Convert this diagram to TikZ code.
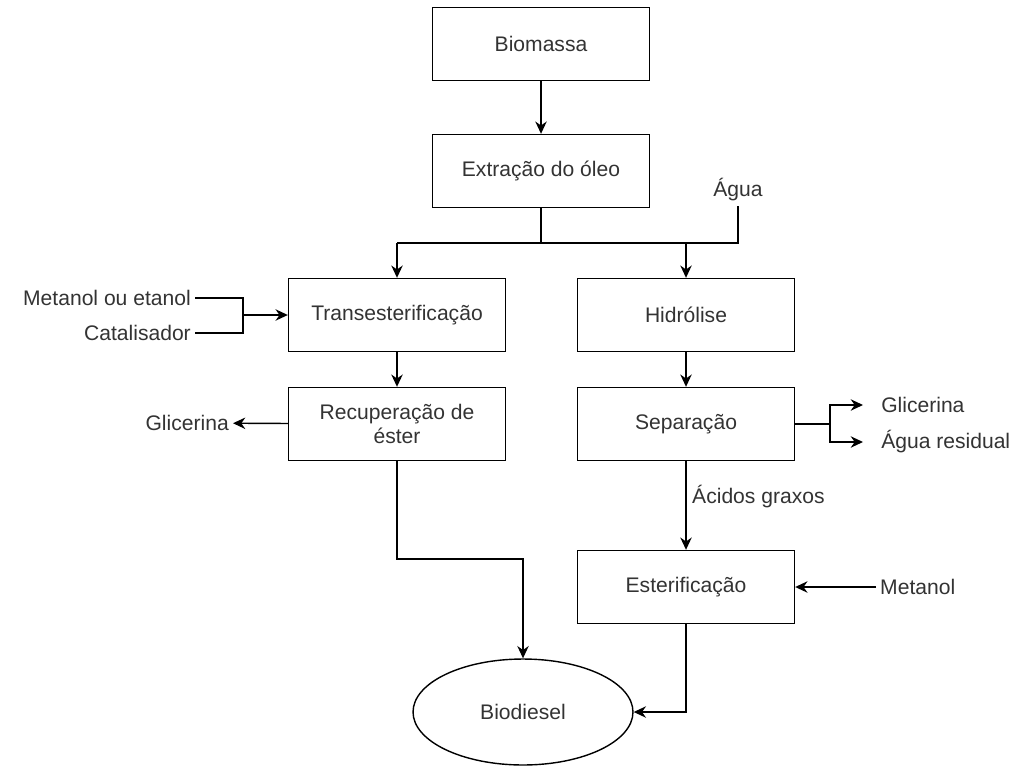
\documentclass[tikz,border=0pt]{standalone}
\usepackage{fontspec}
\setmainfont{Liberation Sans}
\usepackage{tikz}
\usetikzlibrary{calc}
\usetikzlibrary{positioning}
\usetikzlibrary{shapes.geometric}
\usetikzlibrary{arrows.meta}
\tikzstyle{procnode} = [draw, rectangle, minimum width=4.34cm, minimum height=1.46cm, align=center, text=black!80]
\tikzstyle{endnode} = [draw, ellipse, minimum width=4.4cm, minimum height=2.12cm, text=black!80]
\tikzstyle{lblnode} = [inner sep=2pt, text=black!80]

\begin{document}
\begin{tikzpicture}[x=0.02cm, y=-0.02cm, line width=0.8pt, >={Stealth[length=7pt,width=6.5pt]}, font=\fontsize{12}{14}\selectfont]
  \useasboundingbox (0,0) rectangle (1016,767);

  \node[procnode] (bio) at (541,44) {Biomassa};
  \node[procnode] (oleo) at (541,171) {Extração do óleo};
  \node[procnode] (trans) at (397,315) {Transesterificação};
  \node[procnode] (recup) at (397,424) {Recuperação de\\éster};
  \node[procnode] (hidr) at (686,315) {Hidrólise};
  \node[procnode] (sep) at (686,424) {Separação};
  \node[procnode] (ester) at (686,587) {Esterificação};
  \node[endnode] (biod) at (523,712) {Biodiesel};

  \node[lblnode] (agua) at (738,190) {Água};
  \node[lblnode, anchor=east] (met) at (195,298) {Metanol ou etanol};
  \node[lblnode, anchor=east] (cat) at (195,333) {Catalisador};
  \node[lblnode, anchor=east] (gli1) at (233,423) {Glicerina};
  \node[lblnode, anchor=west] (gli2) at (863,405) {\hspace{8pt}Glicerina};
  \node[lblnode, anchor=west] (agres) at (863,442) {\hspace{8pt}Água residual};
  \node[lblnode, anchor=west] (acid) at (688,497) {Ácidos graxos};
  \node[lblnode, anchor=west] (met2) at (876,587) {Metanol};

  \coordinate (split) at (541,243);
  \coordinate (jl) at (243,315);
  \coordinate (js) at (830,424);
  \coordinate (cr) at (523,559);

  \draw[->] (bio) -- (oleo);
  \draw (oleo) -- (split);
  \draw (trans.north |- split) -- (agua.south |- split) -- (agua.south);
  \draw[->] (trans.north |- split) -- (trans);
  \draw[->] (hidr.north |- split) -- (hidr);

  \draw (met.east) -| (jl);
  \draw (cat.east) -| (jl);
  \draw[->] (jl) -- (trans);

  \draw[->] (trans) -- (recup);
  \draw[->] (recup) -- (gli1);
  \draw[->] (hidr) -- (sep);
  \draw (sep) -- (js);
  \draw[->] (js) |- (gli2);
  \draw[->] (js) |- (agres);
  \draw[->] (sep) -- (ester);
  \draw[->] (met2) -- (ester);

  \draw[->] (recup.south) |- (cr) -- (biod);
  \draw[->] (ester.south) |- (biod.east);
\end{tikzpicture}
\end{document}
